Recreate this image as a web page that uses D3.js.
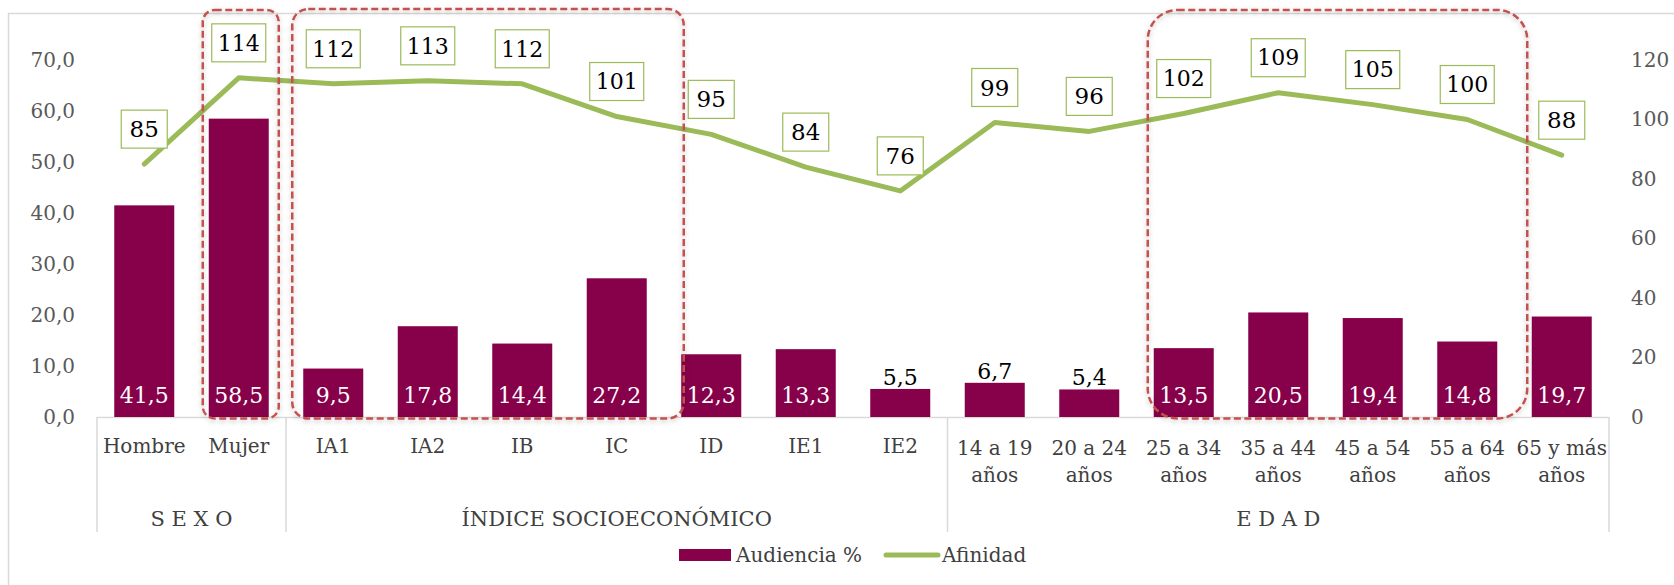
<!DOCTYPE html>
<html>
<head>
	<meta charset="utf-8">
	<title>Audiencia y Afinidad</title>
	<script src="https://d3js.org/d3.v7.min.js"></script>
	<style>
		body { margin: 0; background: #fff; }
		text { font-family: Georgia, 'DejaVu Serif', serif; }
	</style>
</head>
<body>
	<div class="chart"></div>

	<script type="text/javascript">

		// categorias del eje x (\n = salto de linea)
		const categories = ['Hombre', 'Mujer', 'IA1', 'IA2', 'IB', 'IC', 'ID', 'IE1', 'IE2',
			'14 a 19\naños', '20 a 24\naños', '25 a 34\naños', '35 a 44\naños',
			'45 a 54\naños', '55 a 64\naños', '65 y más\naños']
		const groupNames = ['S E X O', 'ÍNDICE SOCIOECONÓMICO', 'E D A D']
		const groupSizes = [2, 7, 7]

		// series
		const audiencia = [41.5, 58.5, 9.5, 17.8, 14.4, 27.2, 12.3, 13.3, 5.5, 6.7, 5.4, 13.5, 20.5, 19.4, 14.8, 19.7]
		const afinidad = [85, 114, 112, 113, 112, 101, 95, 84, 76, 99, 96, 102, 109, 105, 100, 88]

		// ticks de los ejes
		const leftTicks = [0, 10, 20, 30, 40, 50, 60, 70]
		const rightTicks = [0, 20, 40, 60, 80, 100, 120]

		// recuadros rojos resaltados (primera y ultima categoria)
		const highlights = [['Mujer', 'Mujer'], ['IA1', 'IC'], ['25 a 34\naños', '55 a 64\naños']]

		var width = 1674
		var height = 585
		var barColor = '#86004a'
		var lineColor = '#9bbb59'
		var boxColor = '#c55150'
		var gridColor = '#d9d9d9'

		const es = d3.formatLocale({ decimal: ',', thousands: '.', grouping: [3], currency: ['', '€'] })
		const f1 = es.format('.1f')
		const f0 = es.format('.0f')

		var svg = d3.select('.chart')
			.append('svg')
			.attr('width', width)
			.attr('height', height)

		// sombra de los recuadros
		const defs = svg.append('defs')
		defs.append('filter')
			.attr('id', 'shadow')
			.attr('x', '-10%').attr('y', '-10%').attr('width', '120%').attr('height', '120%')
			.append('feDropShadow')
			.attr('dx', 0).attr('dy', 2)
			.attr('stdDeviation', 2.5)
			.attr('flood-color', '#000')
			.attr('flood-opacity', 0.25)

		// marco del grafico
		svg.append('rect')
			.attr('x', 8.5).attr('y', 13.5)
			.attr('width', width + 20).attr('height', height + 20)
			.attr('fill', 'none')
			.attr('stroke', gridColor)
			.attr('stroke-width', 1.5)

		/**
		 * escalas
		 */
		const x = d3.scaleBand()
			.domain(categories)
			.range([97, 1609])
			.paddingInner(0.365)
			.paddingOuter(0.1825)

		const y = d3.scaleLinear().domain([0, 70]).range([417, 60])
		const y2 = d3.scaleLinear().domain([0, 120]).range([417, 60])

		const cx = (c) => x(c) + x.bandwidth() / 2

		/**
		 * ejes
		 */
		const axisL = svg.append('g')
			.attr('transform', 'translate(96,0)')
			.call(d3.axisLeft(y).tickValues(leftTicks).tickSize(0).tickPadding(21).tickFormat(f1))
		axisL.select('.domain').remove()
		axisL.selectAll('text')
			.attr('font-size', 20)
			.attr('font-family', "Georgia, 'DejaVu Serif', serif")
			.attr('fill', '#595959')

		const axisR = svg.append('g')
			.attr('transform', 'translate(1609,0)')
			.call(d3.axisRight(y2).tickValues(rightTicks).tickSize(0).tickPadding(22).tickFormat(f0))
		axisR.select('.domain').remove()
		axisR.selectAll('text')
			.attr('font-size', 20)
			.attr('font-family', "Georgia, 'DejaVu Serif', serif")
			.attr('fill', '#595959')

		// linea base y separadores de grupos
		const [x0, x1] = x.range()
		svg.append('line')
			.attr('x1', x0).attr('x2', x1)
			.attr('y1', y(0) + 0.5).attr('y2', y(0) + 0.5)
			.attr('stroke', gridColor).attr('stroke-width', 1.5)

		let acc = 0
		const bounds = [x0]
		groupSizes.forEach((n) => {
			acc += n
			bounds.push(x0 + acc * x.step())
		})
		svg.append('g')
			.selectAll('line')
			.data(bounds)
			.join('line')
			.attr('x1', (d) => d).attr('x2', (d) => d)
			.attr('y1', y(0)).attr('y2', y(0) + 115)
			.attr('stroke', gridColor).attr('stroke-width', 1.5)

		// etiquetas de categorias
		const catLabels = svg.append('g')
			.selectAll('text')
			.data(categories)
			.join('text')
			.attr('x', (d) => cx(d))
			.attr('y', (d) => y(0) + (d.includes('\n') ? 31 : 29))
			.attr('text-anchor', 'middle')
			.attr('font-size', 20)
			.attr('fill', '#404040')
		catLabels.selectAll('tspan')
			.data((d) => d.split('\n'))
			.join('tspan')
			.attr('x', function () { return d3.select(this.parentNode).attr('x') })
			.attr('dy', (d, i) => (i === 0 ? '0.35em' : 27))
			.text((d) => d)

		// etiquetas de grupos
		svg.append('g')
			.selectAll('text')
			.data(groupNames)
			.join('text')
			.attr('x', (d, i) => (bounds[i] + bounds[i + 1]) / 2)
			.attr('y', y(0) + 102)
			.attr('dy', '0.35em')
			.attr('text-anchor', 'middle')
			.attr('font-size', 21)
			.attr('fill', '#404040')
			.text((d) => d)

		/**
		 * barras
		 */
		svg.append('g')
			.selectAll('rect')
			.data(audiencia)
			.join('rect')
			.attr('x', (d, i) => x(categories[i]))
			.attr('y', (d) => y(d))
			.attr('width', x.bandwidth())
			.attr('height', (d) => y(0) - y(d))
			.attr('fill', barColor)

		svg.append('g')
			.selectAll('text')
			.data(audiencia)
			.join('text')
			.attr('x', (d, i) => cx(categories[i]))
			.attr('y', (d) => (d < 8 ? y(d) - 12 : y(0) - 22))
			.attr('dy', '0.35em')
			.attr('text-anchor', 'middle')
			.attr('font-size', 22)
			.attr('fill', (d) => (d < 8 ? '#000' : '#fff'))
			.text((d) => f1(d))

		/**
		 * linea de afinidad
		 */
		const line = d3.line()
			.x((d, i) => cx(categories[i]))
			.y((d) => y2(d))

		svg.append('path')
			.datum(afinidad)
			.attr('d', line)
			.attr('fill', 'none')
			.attr('stroke', lineColor)
			.attr('stroke-width', 5)
			.attr('stroke-linecap', 'round')
			.attr('stroke-linejoin', 'round')

		const lbl = svg.append('g')
			.selectAll('g')
			.data(afinidad)
			.join('g')
			.attr('transform', (d, i) => `translate(${cx(categories[i])}, ${y2(d) - 35})`)

		lbl.append('rect')
			.attr('x', (d) => (d >= 100 ? -27 : -23))
			.attr('y', -19)
			.attr('width', (d) => (d >= 100 ? 54 : 46))
			.attr('height', 38)
			.attr('fill', '#fff')
			.attr('stroke', lineColor)
			.attr('stroke-width', 1.2)

		lbl.append('text')
			.attr('dy', '0.35em')
			.attr('text-anchor', 'middle')
			.attr('font-size', (d) => (d >= 100 ? 22 : 23))
			.attr('fill', '#000')
			.text((d) => f0(d))

		/**
		 * recuadros rojos
		 */
		const boxStyle = [
			{ lp: 6, rp: 10, top: 10, r: 12 },
			{ lp: 11, rp: 37, top: 9, r: 16 },
			{ lp: 6, rp: 30, top: 10, r: 30 }
		]
		svg.append('g')
			.selectAll('rect')
			.data(highlights)
			.join('rect')
			.attr('x', (d, i) => x(d[0]) - boxStyle[i].lp)
			.attr('y', (d, i) => boxStyle[i].top)
			.attr('width', (d, i) => x(d[1]) + x.bandwidth() + boxStyle[i].rp - (x(d[0]) - boxStyle[i].lp))
			.attr('height', (d, i) => y(0) + 1.5 - boxStyle[i].top)
			.attr('rx', (d, i) => boxStyle[i].r)
			.attr('fill', 'none')
			.attr('stroke', boxColor)
			.attr('stroke-width', 2.5)
			.attr('stroke-dasharray', '7 3.5')
			.attr('filter', 'url(#shadow)')

		/**
		 * leyenda
		 */
		const legend = svg.append('g').attr('transform', 'translate(679, 555)')
		legend.append('rect')
			.attr('x', 0).attr('y', -6)
			.attr('width', 52).attr('height', 12)
			.attr('fill', barColor)
		legend.append('text')
			.attr('x', 57).attr('dy', '0.35em')
			.attr('font-size', 20).attr('fill', '#404040')
			.text('Audiencia %')
		legend.append('line')
			.attr('x1', 207).attr('x2', 259)
			.attr('stroke', lineColor)
			.attr('stroke-width', 5)
			.attr('stroke-linecap', 'round')
		legend.append('text')
			.attr('x', 263).attr('dy', '0.35em')
			.attr('font-size', 20).attr('fill', '#404040')
			.text('Afinidad')

	</script>
</body>
</html>
